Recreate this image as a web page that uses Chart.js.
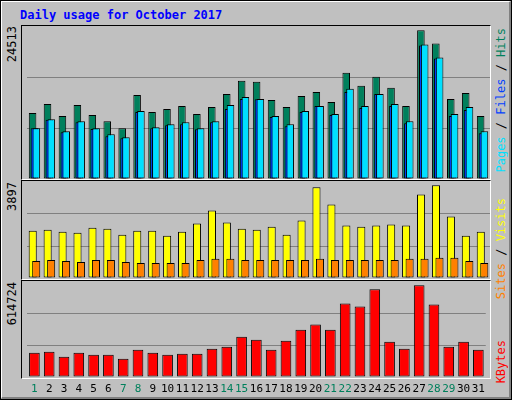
<!DOCTYPE html>
<html><head><meta charset="utf-8">
<script src="https://cdn.jsdelivr.net/npm/chart.js@4"></script>
<style>
body{margin:0;background:#fff}
#wrap{position:absolute;left:0;top:0;width:510px;height:398px;border:1px solid #000;background:#c0c0c0;font-family:"DejaVu Sans Mono","Liberation Mono",monospace}
#bev{position:absolute;left:0;top:0;border-top:1px solid #fff;border-left:1px solid #fff;border-right:2px solid #808080;border-bottom:2px solid #808080;box-sizing:border-box;width:510px;height:398px}
.t{position:absolute;white-space:nowrap}
.v{position:absolute;writing-mode:vertical-rl;transform:rotate(180deg);white-space:nowrap;font-size:12px}
.panel{position:absolute;left:20px;width:470px;border-top:1px solid #000;border-left:1px solid #000;border-right:1px solid #fff;border-bottom:1px solid #fff;box-sizing:border-box}
canvas{position:absolute}
</style></head><body>
<div id="wrap"><div id="bev"></div>
<div class="t" style="left:19px;top:7px;color:#0000ff;font-weight:bold;font-size:12px">Daily usage for October 2017</div>
<div class="panel" style="top:24px;height:155px"></div>
<div class="panel" style="top:179px;height:100px"></div>
<div class="panel" style="top:279px;height:99px"></div>
<div class="v" id="m0" style="left:4px;top:25px"></div>
<div class="v" id="m1" style="left:4px;top:181px"></div>
<div class="v" id="m2" style="left:4px;top:281px"></div>
<div class="v" style="left:493px;top:27px"><span style="color:#00e0ff">Pages</span> / <span style="color:#0040ff">Files</span> / <span style="color:#00805c">Hits</span></div>
<div class="v" style="left:493px;top:197px"><span style="color:#ff8000">Sites</span> / <span style="color:#ffff00">Visits</span></div>
<div class="v" style="left:493px;top:339px"><span style="color:#ff0000">KBytes</span></div>
<div style="position:absolute;left:21px;top:25px;width:469px;height:153px"><canvas id="c0"></canvas></div>
<div style="position:absolute;left:21px;top:181px;width:469px;height:96px"><canvas id="c1"></canvas></div>
<div style="position:absolute;left:21px;top:281px;width:469px;height:117px"><canvas id="c2"></canvas></div>
</div>
<script>
const days = ['1','2','3','4','5','6','7','8','9','10','11','12','13','14','15','16','17','18','19','20','21','22','23','24','25','26','27','28','29','30','31'];
const weekend = [1,7,8,14,15,21,22,28,29];
const hits = [10870,12368,10371,12201,10537,9539,8374,13865,11037,11536,12035,10704,11868,14031,16194,16028,13033,11868,13699,14364,12700,17525,15362,16860,15030,12035,24513,22350,13199,14198,10371];
const files = [8374,9761,7709,9373,8263,7043,6711,11037,8374,8874,9040,8208,9373,11536,13199,13144,10205,8707,11037,12035,10537,14364,11702,14031,12035,9206,22017,19855,10371,11369,7543];
const pages = [8374,9872,7875,9539,8374,7376,6877,11203,8541,9040,9373,8374,9539,12201,13532,13199,10371,9040,11203,12035,10704,14863,12035,14031,12368,9539,22184,20021,10704,11868,7875];
const sites = [1991,2033,1949,1906,2118,2076,1821,1991,1991,1779,1949,2287,2838,2330,2076,2033,2160,1821,2414,3812,3092,2203,2160,2203,2245,2203,3516,3897,2584,1779,1949];
const visits = [720,762,720,678,762,762,678,635,635,635,635,762,805,805,762,762,762,762,762,805,762,762,762,762,762,805,805,847,847,720,635];
const kbytes = [162144,168900,135120,162144,148632,148632,121608,182412,162144,148632,155388,155388,189168,202680,270240,249972,182412,243216,317532,351312,317532,493188,472920,587772,236460,189168,614724,486432,202680,236460,182412];
const maxLabels = ['24513','3897','614724'];
['m0','m1','m2'].forEach((id,i)=>document.getElementById(id).textContent=maxLabels[i]);

const drawOrder = {id:'drawOrder',beforeDatasetsDraw(chart){
  const a=chart.chartArea; const ctx=chart.ctx; ctx.save();
  ctx.beginPath(); ctx.rect(a.left-2,a.top-2,a.right-a.left+4,a.bottom-a.top+4); ctx.clip();
  chart.getSortedVisibleDatasetMetas().forEach(m=>m.controller.draw()); ctx.restore(); return false;}};

function ds(data,color,cp,bp){return {data,backgroundColor:color,borderColor:'#000',borderWidth:1,borderSkipped:false,categoryPercentage:cp,barPercentage:bp};}
function make(id,sets,max,showX){
  return new Chart(document.getElementById(id),{type:'bar',data:{labels:days,datasets:sets},
   plugins:[drawOrder],
   options:{responsive:true,maintainAspectRatio:false,animation:false,
    layout:{padding:{left:5,right:1,top:0,bottom:0}},
    plugins:{legend:{display:false},tooltip:{enabled:false}},
    scales:{
     x:{display:showX,grid:{display:false,drawTicks:false},border:{display:false},
        afterFit(s){s.height=showX?22:0;},
        ticks:{padding:6,font:{family:'DejaVu Sans Mono',size:11},maxRotation:0,autoSkip:false,
          color:c=>weekend.includes(c.index+1)?'#00805c':'#000'}},
     y:{min:0,max:max,afterFit(s){s.width=0;},border:{display:false},
        ticks:{display:false,count:4},
        grid:{drawTicks:false,lineWidth:1,color:c=>(c.index===1||c.index===2)?'#808080':'rgba(0,0,0,0)'}}}}});
}
make('c0',[ds(hits,'#00805c',0.38,4),ds(files,'#0040ff',0.38,4),ds(pages,'#00e0ff',0.38,4)],25230,false);
make('c1',[ds(sites,'#ffff00',0.47,2.3),ds(visits,'#ff8000',0.47,2.3)],4037,false);
make('c2',[ds(kbytes,'#ff0000',0.72,1)],637000,true);
</script></body></html>
